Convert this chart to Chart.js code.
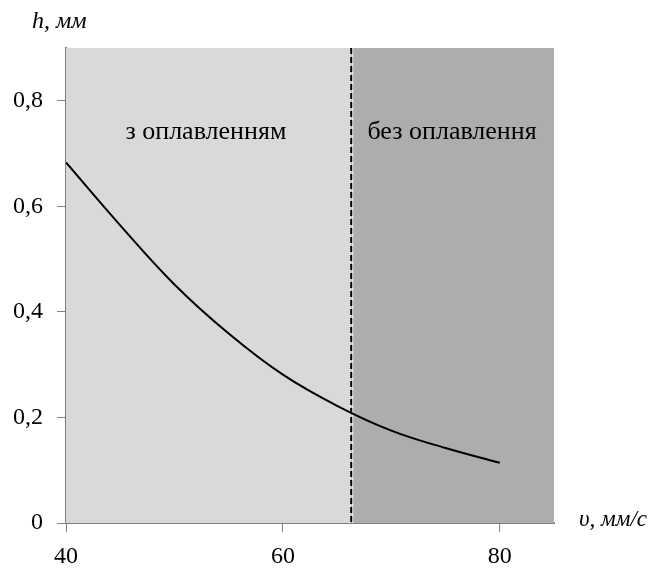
<!DOCTYPE html>
<html>
<head>
<meta charset="utf-8">
<script src="https://cdn.jsdelivr.net/npm/chart.js@4/dist/chart.umd.min.js"></script>
<style>
  html, body { margin: 0; padding: 0; background: #fff; }
  #wrap { width: 651px; height: 572px; position: relative; }
</style>
</head>
<body>
<div id="wrap"><canvas id="myPlot"></canvas></div>
<script>
// швидкість, мм/с
const speed = [40, 45, 50, 55, 60, 65, 70, 75, 80];
// глибина, мм
const depth = [0.683, 0.564, 0.452, 0.359, 0.281, 0.222, 0.175, 0.142, 0.114];
const xTicks = [40, 60, 80];
const yTicks = [0, 0.2, 0.4, 0.6, 0.8];
const meltLimit = 66.3; // межа між зонами
const zoneLabels = ['з оплавленням', 'без оплавлення'];
const zoneLabelPos = [[52.9, 0.74], [75.6, 0.74]];

const serif = '"Liberation Serif", "Times New Roman", serif';

var zones = {
  id: 'zones',
  beforeDatasetsDraw(chart) {
    var ctx = chart.ctx, a = chart.chartArea;
    var xs = chart.scales.x, ys = chart.scales.y;
    var xm = xs.getPixelForValue(meltLimit);
    ctx.save();
    ctx.fillStyle = '#d9d9d9';
    ctx.fillRect(a.left, a.top, xm - a.left, a.bottom - a.top);
    ctx.fillStyle = '#adadad';
    ctx.fillRect(xm, a.top, a.right - xm, a.bottom - a.top);
    // тонка біла лінія під пунктиром
    ctx.strokeStyle = '#ffffff';
    ctx.lineWidth = 1;
    ctx.beginPath();
    ctx.moveTo(xm + 1.5, a.top);
    ctx.lineTo(xm + 1.5, a.bottom);
    ctx.stroke();
    ctx.strokeStyle = '#000';
    ctx.lineWidth = 2;
    ctx.setLineDash([6, 3]);
    ctx.beginPath();
    ctx.moveTo(xm, a.top);
    ctx.lineTo(xm, a.bottom);
    ctx.stroke();
    ctx.setLineDash([]);
    ctx.fillStyle = '#000';
    ctx.font = '26px ' + serif;
    ctx.textAlign = 'center';
    ctx.textBaseline = 'middle';
    for (let i = 0; i < zoneLabels.length; i++) {
      ctx.fillText(zoneLabels[i], xs.getPixelForValue(zoneLabelPos[i][0]), ys.getPixelForValue(zoneLabelPos[i][1]));
    }
    ctx.restore();
  },
  afterDraw(chart) {
    var ctx = chart.ctx;
    ctx.save();
    ctx.fillStyle = '#000';
    ctx.textAlign = 'left';
    ctx.textBaseline = 'middle';
    ctx.font = 'italic 24px ' + serif;
    ctx.fillText('h, мм', 32, 22);
    ctx.font = 'italic 23px ' + serif;
    ctx.fillText('υ, мм/с', 579, 520);
    ctx.restore();
  }
};

function fmt(v) {
  return String(v).replace('.', ',');
}

new Chart(document.getElementById('myPlot').getContext('2d'), {
  type: 'line',
  data: {
    datasets: [{
      data: speed.map((s, i) => ({x: s, y: depth[i]})),
      borderColor: '#000',
      borderWidth: 2,
      pointRadius: 0,
      tension: 0.4,
      fill: false
    }]
  },
  options: {
    responsive: true,
    maintainAspectRatio: false,
    animation: false,
    devicePixelRatio: 1,
    layout: { padding: { top: 48, right: 97, left: 0, bottom: 0 } },
    plugins: { legend: { display: false }, tooltip: { enabled: false } },
    scales: {
      x: {
        type: 'linear',
        min: 40,
        max: 85,
        afterBuildTicks: s => { s.ticks = xTicks.map(v => ({value: v})); },
        afterFit: s => { s.height = 49; },
        border: { color: '#808080', width: 2 },
        grid: { drawOnChartArea: false, drawTicks: true, tickLength: 9, color: '#808080', tickWidth: 1 },
        ticks: { color: '#000', padding: 10, maxRotation: 0, font: { family: serif, size: 24 }, callback: fmt }
      },
      y: {
        type: 'linear',
        min: 0,
        max: 0.9,
        afterBuildTicks: s => { s.ticks = yTicks.map(v => ({value: v})); },
        afterFit: s => { s.width = 66; },
        border: { color: '#808080', width: 2 },
        grid: { drawOnChartArea: false, drawTicks: true, tickLength: 9, color: '#808080', tickWidth: 1 },
        ticks: { color: '#000', padding: 14, font: { family: serif, size: 24 }, callback: fmt }
      }
    }
  },
  plugins: [zones]
});
</script>
</body>
</html>
